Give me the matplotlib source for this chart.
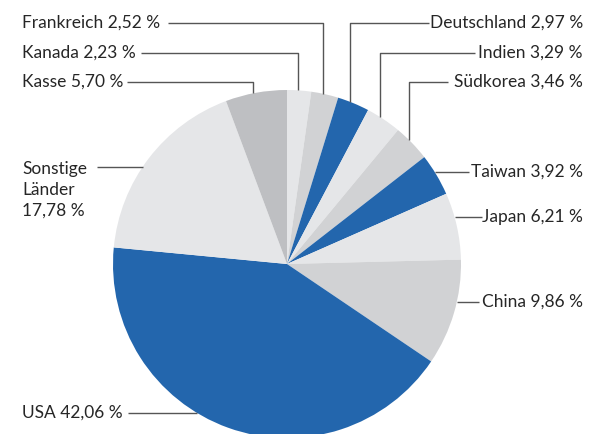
import numpy as np
import matplotlib
matplotlib.use('Agg')
import matplotlib.pyplot as plt

# slices clockwise from 12 o'clock
labels = ['Kanada', 'Frankreich', 'Deutschland', 'Indien', 'Südkorea', 'Taiwan',
          'Japan', 'China', 'USA', 'Sonstige\nLänder\n', 'Kasse']
values = [2.23, 2.52, 2.97, 3.29, 3.46, 3.92, 6.21, 9.86, 42.06, 17.78, 5.70]

BLUE = '#2366ad'
LIGHT = '#e5e6e8'
MID = '#d1d2d4'
DARK = '#bebfc2'
colors = [LIGHT, MID, BLUE, LIGHT, MID, BLUE, LIGHT, MID, BLUE, LIGHT, DARK]

plt.rcParams['font.family'] = ['Lato', 'DejaVu Sans']

W, H = 592, 434
fig = plt.figure(figsize=(W / 100, H / 100), dpi=100)
ax = fig.add_axes([0, 0, 1, 1])

cx, cy, r = 287, 264, 174  # pixel coords, y from top
ax.pie(values, colors=colors, startangle=90, counterclock=False,
       center=(cx, H - cy), radius=r, frame=True,
       wedgeprops=dict(linewidth=0))
ax.set_xlim(0, W)
ax.set_ylim(0, H)
ax.set_aspect('equal')
ax.axis('off')

def fmt(v):
    return ('%.2f' % v).replace('.', ',') + ' %'

line_kw = dict(color='#555555', lw=1.0, solid_capstyle='butt')
txt_kw = dict(fontsize=12.5, color='#262626', va='center')

# (label index, text x, text y, line start x, elbow x, side)
layout = [
    (1, 22, 23, 168, 323, 'left'),
    (0, 22, 53, 141, 298, 'left'),
    (10, 22, 82, 127, 253, 'left'),
    (2, 583, 23, 429, 350, 'right'),
    (3, 583, 53, 475, 380, 'right'),
    (4, 583, 82, 448, 409, 'right'),
]
for i, tx, ty, lx, ex, side in layout:
    s = labels[i] + ' ' + fmt(values[i])
    ax.text(tx, H - ty, s, ha='left' if side == 'left' else 'right', **txt_kw)
    ey = cy - np.sqrt(r ** 2 - (ex - cx) ** 2)
    ax.plot([lx, ex, ex], [H - ty, H - ty, H - ey], **line_kw)

# horizontal connectors
horiz = [
    (5, 583, 172, 469, 'right'),
    (6, 583, 217, 482, 'right'),
    (7, 583, 302, 479, 'right'),
    (8, 22, 413, 128, 'left'),
]
for i, tx, ty, lx, side in horiz:
    s = labels[i] + ' ' + fmt(values[i])
    ax.text(tx, H - ty, s, ha='left' if side == 'left' else 'right', **txt_kw)
    dx = np.sqrt(r ** 2 - (ty - cy) ** 2)
    px = cx + dx if side == 'right' else cx - dx
    ax.plot([lx, px], [H - ty, H - ty], **line_kw)

# Sonstige Länder, three lines
ax.text(22, H - 190, 'Sonstige\nLänder\n' + fmt(values[9]), ha='left',
        linespacing=1.35, **txt_kw)
dx = np.sqrt(r ** 2 - (167 - cy) ** 2)
ax.plot([97, cx - dx], [H - 167, H - 167], **line_kw)

fig.savefig('out.png', dpi=100)
